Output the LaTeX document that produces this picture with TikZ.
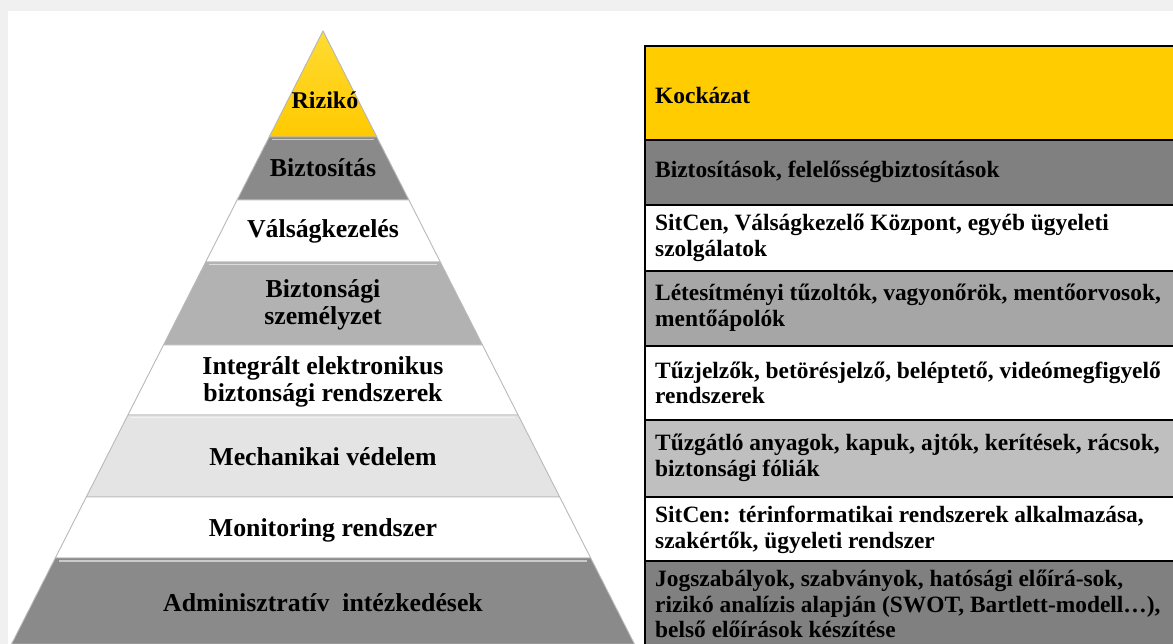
\documentclass[tikz,border=0pt]{standalone}
\usepackage{fontspec}
\setmainfont{Liberation Serif}
\begin{document}
\begin{tikzpicture}[x=1pt,y=-1pt,
  band/.style={draw=gray!55,line width=0.9pt,line join=round},
  bevel/.style={draw=white,line width=1.2pt,opacity=0.55},
  ptext/.style={font=\bfseries\fontsize{25.8}{27}\selectfont,align=center,inner sep=0pt},
  rowbox/.style={draw=black,line width=1.3pt},
  ttext/.style={font=\bfseries\fontsize{23.4}{25.7}\selectfont,align=left,anchor=west,inner sep=0pt}]
\definecolor{gold}{HTML}{FFD200}
\definecolor{kgold}{HTML}{FFCC00}
\definecolor{dgray}{HTML}{8A8A8A}
\definecolor{mgray}{HTML}{B2B2B2}
\definecolor{lgray}{HTML}{E4E4E4}
\definecolor{tdgray}{HTML}{808080}
\definecolor{tmgray}{HTML}{A6A6A6}
\definecolor{tlgray}{HTML}{BFBFBF}
\useasboundingbox (0,0) rectangle (1173,644);
\clip (0,0) rectangle (1173,644);
% page shadow
\fill[gray!12] (0,0) rectangle (1173,644);
\fill[white] (8,11) rectangle (1173,644);
% pyramid bands
\filldraw[band,top color=gold!80!white,bottom color=gold!90!orange] (323,31) -- (376.8,137) -- (269.2,137) -- cycle;
\filldraw[band,fill=dgray] (269.2,137) -- (376.8,137) -- (408.9,200) -- (237.1,200) -- cycle;
\filldraw[band,fill=white] (237.1,200) -- (408.9,200) -- (440.3,262) -- (205.7,262) -- cycle;
\filldraw[band,fill=mgray] (205.7,262) -- (440.3,262) -- (482.5,345) -- (163.5,345) -- cycle;
\filldraw[band,fill=white] (163.5,345) -- (482.5,345) -- (518.1,415) -- (127.9,415) -- cycle;
\filldraw[band,fill=lgray] (127.9,415) -- (518.1,415) -- (559.7,497) -- (86.3,497) -- cycle;
\filldraw[band,fill=white] (86.3,497) -- (559.7,497) -- (590.7,558) -- (55.3,558) -- cycle;
\filldraw[band,fill=dgray] (55.3,558) -- (590.7,558) -- (634.4,644) -- (11.6,644) -- cycle;
% bevel highlights
\draw[bevel] (272,139.5) -- (374,139.5);
\draw[bevel] (209,264.5) -- (437,264.5);
\draw[bevel] (131,417.5) -- (515,417.5);
\draw[bevel] (59,561) -- (587,561);
% pyramid labels
\node[ptext,font=\bfseries\fontsize{24}{26}\selectfont] (p1) at (325,100) {Rizikó};
\node[ptext] (p2) at (323,168) {Biztosítás};
\node[ptext] (p3) at (323,231) {Válságkezelés};
\node[ptext] (p4) at (323,305) {Biztonsági\\személyzet};
\node[ptext] (p5) at (323,382) {Integrált elektronikus\\biztonsági rendszerek};
\node[ptext] (p6) at (323,457) {Mechanikai védelem};
\node[ptext] (p7) at (323,530) {Monitoring rendszer};
\node[ptext] (p8) at (323,603) {Adminisztratív\ \ intézkedések};
% table rows
\filldraw[rowbox,fill=kgold] (645,46) rectangle (1190,140);
\filldraw[rowbox,fill=tdgray] (645,140) rectangle (1190,205);
\filldraw[rowbox,fill=white] (645,205) rectangle (1190,271);
\filldraw[rowbox,fill=tmgray] (645,271) rectangle (1190,346);
\filldraw[rowbox,fill=white] (645,346) rectangle (1190,420);
\filldraw[rowbox,fill=tlgray] (645,420) rectangle (1190,497);
\filldraw[rowbox,fill=white] (645,497) rectangle (1190,561);
\filldraw[rowbox,fill=tdgray] (645,561) rectangle (1190,660);
% table texts
\node[ttext] (t1) at (655,95) {Kockázat};
\node[ttext] (t2) at (655,172) {Biztosítások, felelősségbiztosítások};
\node[ttext] (t3) at (655,238) {SitCen, Válságkezelő Központ, egyéb ügyeleti\\szolgálatok};
\node[ttext] (t4) at (655,308) {Létesítményi tűzoltók, vagyonőrök, mentőorvosok,\\mentőápolók};
\node[ttext] (t5) at (655,383) {Tűzjelzők, betörésjelző, beléptető, videómegfigyelő\\rendszerek};
\node[ttext] (t6) at (655,458) {Tűzgátló anyagok, kapuk, ajtók, kerítések, rácsok,\\biztonsági fóliák};
\node[ttext] (t7) at (655,530) {SitCen: térinformatikai rendszerek alkalmazása,\\szakértők, ügyeleti rendszer};
\node[ttext] (t8) at (655,604) {Jogszabályok, szabványok, hatósági előírá-sok,\\rizikó analízis alapján (SWOT, Bartlett-modell…),\\belső előírások készítése};
\end{tikzpicture}
\end{document}
